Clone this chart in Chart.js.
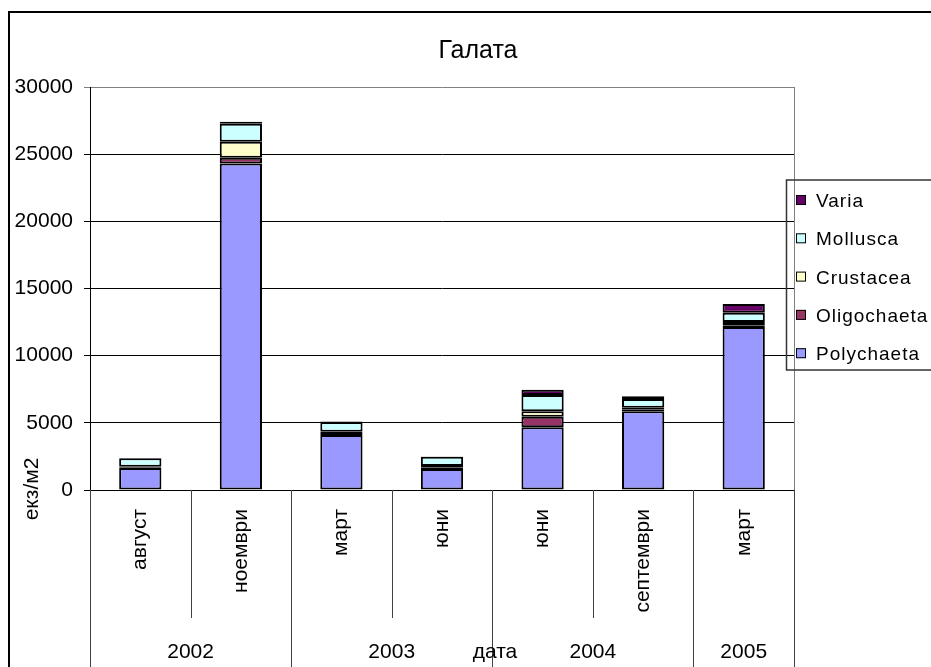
<!DOCTYPE html>
<html>
<head>
<meta charset="utf-8">
<title>Галата</title>
<script src="https://cdn.jsdelivr.net/npm/chart.js@4.4.1/dist/chart.umd.min.js"></script>
<style>
    html, body { margin: 0; padding: 0; background: #fff; }
    #wrap { width: 931px; height: 667px; position: relative; }
</style>
</head>
<body>
<div id="wrap"><canvas id="myChart"></canvas></div>
<script>
// Data
var months = ['август', 'ноември', 'март', 'юни', 'юни', 'септември', 'март'];
var years = ['2002', '2003', '2004', '2005'];
var yearSpans = [2, 2, 2, 1];

var polychaeta = [1640, 24300, 4100, 1570, 4680, 5870, 12130];
var oligochaeta = [60, 440, 150, 120, 770, 150, 100];
var crustacea = [40, 1180, 80, 100, 420, 100, 270];
var mollusca = [620, 1350, 740, 680, 1200, 650, 700];
var varia = [20, 150, 20, 20, 400, 200, 650];

var yTicks = [0, 5000, 10000, 15000, 20000, 25000, 30000];

var FONT = "'Liberation Sans', Arial, sans-serif";

function ds(label, data, color) {
    return {
        label: label,
        data: data,
        backgroundColor: color,
        borderColor: '#000',
        borderWidth: 2,
        borderSkipped: false,
        categoryPercentage: 1,
        barPercentage: 0.42
    };
}

// Extra drawing: title, multi-level axis, legend, frames
var decorations = {
    id: 'decorations',
    afterDraw: function(chart) {
        var ctx = chart.ctx;
        var area = chart.chartArea;
        var x = chart.scales.x;
        var half = (x.getPixelForValue(1) - x.getPixelForValue(0)) / 2;
        ctx.save();

        // plot border (right side)
        ctx.strokeStyle = '#808080';
        ctx.lineWidth = 1;
        ctx.beginPath();
        ctx.moveTo(area.right + 0.5, area.top);
        ctx.lineTo(area.right + 0.5, area.bottom);
        ctx.stroke();

        // separators under the axis
        ctx.strokeStyle = '#404040';
        var idx = 0;
        var bounds = [0];
        years.forEach(function(y, i) {
            idx += yearSpans[i];
            bounds.push(idx);
        });
        for (var b = 0; b <= months.length; b++) {
            var px = Math.round(x.getPixelForValue(b) - half) + 0.5;
            var isYear = bounds.indexOf(b) >= 0;
            ctx.beginPath();
            ctx.moveTo(px, area.bottom);
            ctx.lineTo(px, isYear ? chart.height : 618);
            ctx.stroke();
        }

        // year labels
        ctx.fillStyle = '#000';
        ctx.font = '21px ' + FONT;
        ctx.textAlign = 'center';
        ctx.textBaseline = 'alphabetic';
        var start = 0;
        years.forEach(function(y, i) {
            var end = start + yearSpans[i] - 1;
            var cx = (x.getPixelForValue(start) + x.getPixelForValue(end)) / 2;
            ctx.fillText(y, cx, 658);
            start = end + 1;
        });

        // axis titles
        ctx.fillText('дата', 495, 658);
        ctx.save();
        ctx.translate(38, 489);
        ctx.rotate(-Math.PI / 2);
        ctx.textAlign = 'center';
        ctx.fillText('екз/м2', 0, 0);
        ctx.restore();

        // chart title
        ctx.font = '25px ' + FONT;
        ctx.fillText('Галата', 478, 58);

        // legend (reversed order, boxed)
        ctx.strokeStyle = '#333';
        ctx.lineWidth = 1.5;
        ctx.strokeRect(786.5, 180, 160, 190);
        ctx.font = '19px ' + FONT;
        ctx.letterSpacing = '1px';
        ctx.textAlign = 'left';
        var items = chart.data.datasets.slice().reverse();
        items.forEach(function(d, i) {
            var cy = 200 + i * 38.3;
            ctx.fillStyle = d.backgroundColor;
            ctx.fillRect(796, cy - 5, 10, 10);
            ctx.strokeStyle = '#000';
            ctx.lineWidth = 1;
            ctx.strokeRect(796.5, cy - 4.5, 9, 9);
            ctx.fillStyle = '#000';
            ctx.fillText(d.label, 816, cy + 7);
        });
        ctx.letterSpacing = '0px';

        // outer chart frame
        ctx.strokeStyle = '#000';
        ctx.lineWidth = 2;
        ctx.strokeRect(9, 12, 1000, 1000);
        ctx.restore();
    }
};

function renderChart() {
    Chart.defaults.font.family = FONT;
    Chart.defaults.color = '#000';
    var ctx = document.getElementById('myChart').getContext('2d');
    var chart = new Chart(ctx, {
        type: 'bar',
        data: {
            labels: months,
            datasets: [
                ds('Polychaeta', polychaeta, '#9999FF'),
                ds('Oligochaeta', oligochaeta, '#993366'),
                ds('Crustacea', crustacea, '#FFFFCC'),
                ds('Mollusca', mollusca, '#CCFFFF'),
                ds('Varia', varia, '#660066')
            ]
        },
        options: {
            responsive: true,
            maintainAspectRatio: false,
            animation: false,
            layout: { padding: { top: 87, right: 137, left: 0, bottom: 0 } },
            plugins: {
                legend: { display: false },
                title: { display: false },
                tooltip: { enabled: false }
            },
            scales: {
                x: {
                    stacked: true,
                    grid: { display: false, drawTicks: false },
                    border: { display: true, color: '#000', width: 1 },
                    ticks: {
                        font: { size: 21 },
                        color: '#000',
                        minRotation: 90,
                        maxRotation: 90,
                        autoSkip: false,
                        padding: 19
                    },
                    afterFit: function(scale) { scale.height = 177; }
                },
                y: {
                    stacked: true,
                    min: 0,
                    max: 30000,
                    afterBuildTicks: function(scale) {
                        scale.ticks = yTicks.map(function(v) { return { value: v }; });
                    },
                    grid: {
                        color: function(c) { return c.tick && c.tick.value === 30000 ? '#808080' : '#000'; },
                        lineWidth: 1,
                        tickLength: 6,
                        drawTicks: true
                    },
                    border: { display: true, color: '#000', width: 1 },
                    ticks: {
                        font: { size: 21 },
                        color: '#000',
                        padding: 11,
                        callback: function(v) { return String(v); }
                    },
                    afterFit: function(scale) { scale.width = 90; }
                }
            }
        },
        plugins: [decorations]
    });
}
window.onload = renderChart;
</script>
</body>
</html>
